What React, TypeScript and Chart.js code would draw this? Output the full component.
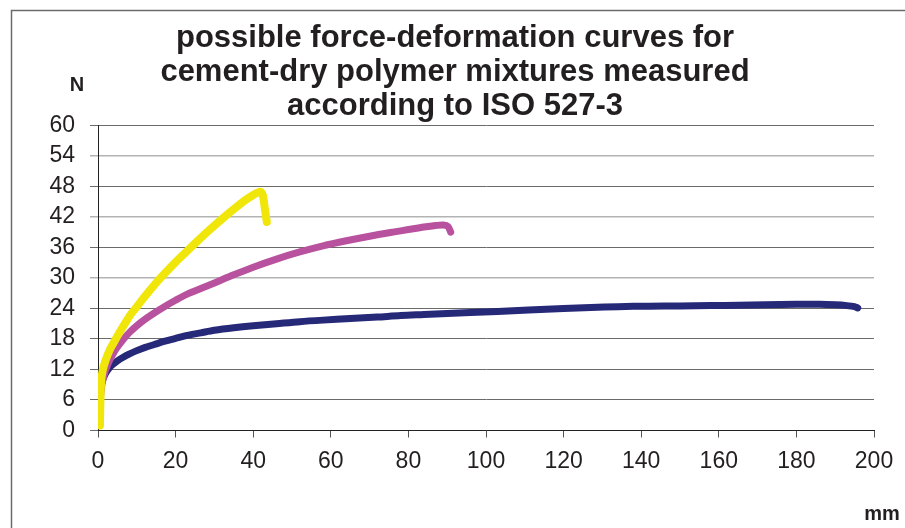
import React, { useEffect, useRef } from "react";
import { Chart, registerables } from "chart.js";

Chart.register(...registerables);

const titleLines = [
  "possible force-deformation curves for",
  "cement-dry polymer mixtures measured",
  "according to ISO 527-3",
];
const yAxisLabel = "N";
const xAxisLabel = "mm";

const blueX = [0.4, 0.7, 1, 1.5, 2, 3, 4, 5, 6.5, 8, 10, 12, 14.5, 17, 20, 23, 26.5, 30, 35, 40, 46, 52, 58, 65, 72, 78, 84, 90, 96, 103, 111, 120, 127, 134, 142, 150, 158, 165, 172, 180, 186, 190, 193, 195, 195.8];
const blueY = [5, 8, 9.5, 10.5, 11.3, 12.4, 13.1, 13.7, 14.4, 15.0, 15.7, 16.3, 16.9, 17.5, 18.1, 18.7, 19.2, 19.7, 20.2, 20.6, 21.0, 21.4, 21.7, 22.0, 22.3, 22.6, 22.8, 23.0, 23.2, 23.4, 23.7, 24.0, 24.2, 24.35, 24.45, 24.5, 24.55, 24.6, 24.7, 24.8, 24.8, 24.7, 24.55, 24.35, 24.1];

const magentaX = [0.4, 0.7, 1, 1.5, 2, 3, 4, 5, 6.5, 8, 10, 12, 14.5, 17, 20, 23, 26.5, 30, 35, 40, 46, 52, 58, 64, 70, 76, 80, 84, 87, 89, 90.2, 90.9];
const magentaY = [4, 7, 9, 10.7, 12, 13.8, 15.2, 16.4, 17.9, 19.2, 20.6, 21.8, 23.1, 24.3, 25.6, 26.8, 27.9, 29, 30.6, 32.1, 33.7, 35.1, 36.3, 37.3, 38.2, 39.0, 39.5, 40.0, 40.3, 40.4, 40.1, 39.0];

const yellowX = [0.5, 0.6, 0.8, 1.2, 2, 3, 4, 5.5, 7, 8.5, 10, 12, 14.5, 17, 20, 23, 26, 29, 32, 35, 38, 40, 41.2, 42, 42.5, 43, 43.5];
const yellowY = [1, 5, 9.5, 11.8, 13.9, 15.8, 17.2, 19.2, 21.1, 22.9, 24.3, 26.3, 28.6, 30.7, 33.1, 35.3, 37.5, 39.6, 41.6, 43.5, 45.3, 46.3, 46.8, 46.9, 46.2, 43.6, 41.0];

const xTicks = { min: 0, max: 200, step: 20 };
const yTicks = { min: 0, max: 60, step: 6 };

const toPoints = (xs: number[], ys: number[]) => xs.map((x, i) => ({ x, y: ys[i] }));

const decorPlugin = {
  id: "decor",
  beforeDraw(chart: any) {
    const ctx = chart.ctx;
    ctx.save();
    ctx.fillStyle = "#ffffff";
    ctx.fillRect(0, 0, chart.width, chart.height);
    ctx.strokeStyle = "#6b6b6b";
    ctx.lineWidth = 1.5;
    ctx.beginPath();
    ctx.moveTo(11.5, chart.height);
    ctx.lineTo(11.5, 10.5);
    ctx.lineTo(chart.width, 10.5);
    ctx.stroke();
    ctx.restore();
  },
  afterDraw(chart: any) {
    const ctx = chart.ctx;
    ctx.save();
    ctx.fillStyle = "#231f20";
    ctx.font = "bold 20px 'Liberation Sans', Arial, sans-serif";
    ctx.textAlign = "center";
    ctx.textBaseline = "middle";
    ctx.fillText(yAxisLabel, 77, 85);
    ctx.fillText(xAxisLabel, 882, 514);
    ctx.restore();
  },
};

export default function App() {
  const ref = useRef<HTMLCanvasElement>(null);
  useEffect(() => {
    if (!ref.current) return;
    const chart = new Chart(ref.current, {
      type: "line",
      data: {
        datasets: [
          {
            label: "yellow",
            data: toPoints(yellowX, yellowY),
            borderColor: "#f0e60a",
            borderWidth: 8,
            order: 0,
          },
          {
            label: "magenta",
            data: toPoints(magentaX, magentaY),
            borderColor: "#b8529e",
            borderWidth: 7,
            order: 1,
          },
          {
            label: "blue",
            data: toPoints(blueX, blueY),
            borderColor: "#262878",
            borderWidth: 7,
            order: 2,
          },
        ].map((d) => ({
          ...d,
          pointRadius: 0,
          fill: false,
          tension: 0.3,
          borderCapStyle: "round" as const,
          borderJoinStyle: "round" as const,
        })),
      },
      plugins: [decorPlugin],
      options: {
        animation: false,
        responsive: true,
        maintainAspectRatio: false,
        layout: { padding: { left: 36, right: 31, top: 0, bottom: 0 } },
        plugins: {
          legend: { display: false },
          tooltip: { enabled: false },
          title: {
            display: true,
            text: titleLines,
            color: "#231f20",
            font: { family: "'Liberation Sans', Arial, sans-serif", size: 31, weight: "bold", lineHeight: 1.1 },
            padding: { top: 21, bottom: 2 },
          },
        },
        scales: {
          x: {
            type: "linear",
            min: xTicks.min,
            max: xTicks.max,
            afterFit: (s: any) => {
              s.height = 97.5;
            },
            ticks: {
              stepSize: xTicks.step,
              autoSkip: false,
              color: "#231f20",
              padding: 10,
              maxRotation: 0,
              font: { family: "'Liberation Sans Narrow', 'Arial Narrow', 'Liberation Sans', sans-serif", size: 23 },
            },
            grid: { drawOnChartArea: false, drawTicks: true, tickLength: 7, color: "#555555" },
            border: { display: true, color: "#222222", width: 1 },
          },
          y: {
            type: "linear",
            min: yTicks.min,
            max: yTicks.max,
            afterFit: (s: any) => {
              s.width = 62;
            },
            ticks: {
              stepSize: yTicks.step,
              autoSkip: false,
              color: "#231f20",
              padding: 15,
              font: { family: "'Liberation Sans', Arial, sans-serif", size: 23 },
            },
            grid: {
              tickLength: 8,
              color: (c: any) => (c.tick && [30, 42, 54].includes(c.tick.value) ? "#b3b3b3" : "#6b6b6b"),
              lineWidth: (c: any) => (c.tick && [30, 42, 54].includes(c.tick.value) ? 1.5 : 1),
            },
            border: { display: true, color: "#222222", width: 1 },
          },
        },
      },
    });
    return () => chart.destroy();
  }, []);
  return (
    <div style={{ position: "absolute", left: 0, top: 0, width: 905, height: 528 }}>
      <canvas ref={ref} />
    </div>
  );
}
